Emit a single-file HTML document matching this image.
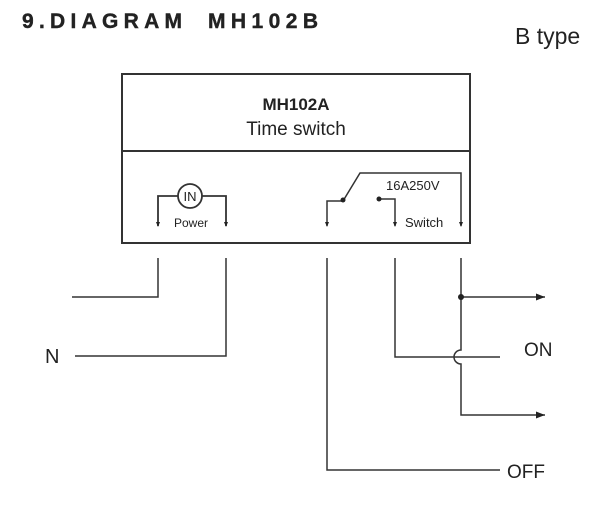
<!DOCTYPE html>
<html><head><style>
body{margin:0;background:#fff;width:614px;height:501px;overflow:hidden}
svg text{font-family:"Liberation Sans",sans-serif;fill:#222}
</style></head><body>
<svg width="614" height="501" viewBox="0 0 614 501" xmlns="http://www.w3.org/2000/svg">
<defs><marker id="a" markerWidth="9" markerHeight="7" refX="9" refY="3.5" orient="auto" markerUnits="userSpaceOnUse"><path d="M0,0 L9,3.5 L0,7z" fill="#222"/></marker></defs>
<text x="22" y="28" font-size="21" font-weight="bold" stroke="#222" stroke-width="0.4" textLength="160" lengthAdjust="spacing">9.DIAGRAM</text>
<text x="208" y="28" font-size="21" font-weight="bold" stroke="#222" stroke-width="0.4" textLength="110" lengthAdjust="spacing">MH102B</text>
<text x="515" y="44" font-size="23">B type</text>
<g stroke="#333" fill="none" stroke-width="1.5">
<rect x="122" y="74" width="348" height="169" stroke-width="2"/>
<line x1="122" y1="151" x2="470" y2="151" stroke-width="2"/>
<path d="M158 226 V196 H178 M202 196 H226 V226" stroke-width="1.8"/>
<circle cx="190" cy="196" r="12" stroke-width="1.8"/>
<path d="M327 226 V201 H343 L360 173 H461 V226"/>
<path d="M379 199 H395 V226"/>
<path d="M158 258 V297 H72"/>
<path d="M226 258 V356 H75"/>
<path d="M327 258 V470 H500"/>
<path d="M395 258 V357 H500"/>
<path d="M461 258 V350 A7 7 0 0 0 461 364 V415 H545" marker-end="url(#a)"/>
<path d="M461 297 H545" marker-end="url(#a)"/>
</g>
<g fill="#222"><circle cx="461" cy="297" r="3"/><circle cx="343" cy="200" r="2.5"/><circle cx="379" cy="199" r="2.5"/>
<path d="M156 222h4l-2 5z M224 222h4l-2 5z M325 222h4l-2 5z M393 222h4l-2 5z M459 222h4l-2 5z"/></g>
<text x="190" y="201" font-size="13" text-anchor="middle">IN</text>
<text x="296" y="110" font-size="17" font-weight="bold" text-anchor="middle">MH102A</text>
<text x="296" y="135" font-size="19" text-anchor="middle">Time switch</text>
<text x="174" y="227" font-size="12">Power</text>
<text x="386" y="190" font-size="13">16A250V</text>
<text x="405" y="227" font-size="13">Switch</text>
<text x="45" y="363" font-size="20">N</text>
<text x="524" y="356" font-size="19">ON</text>
<text x="507" y="478" font-size="19">OFF</text>
</svg>
</body></html>
